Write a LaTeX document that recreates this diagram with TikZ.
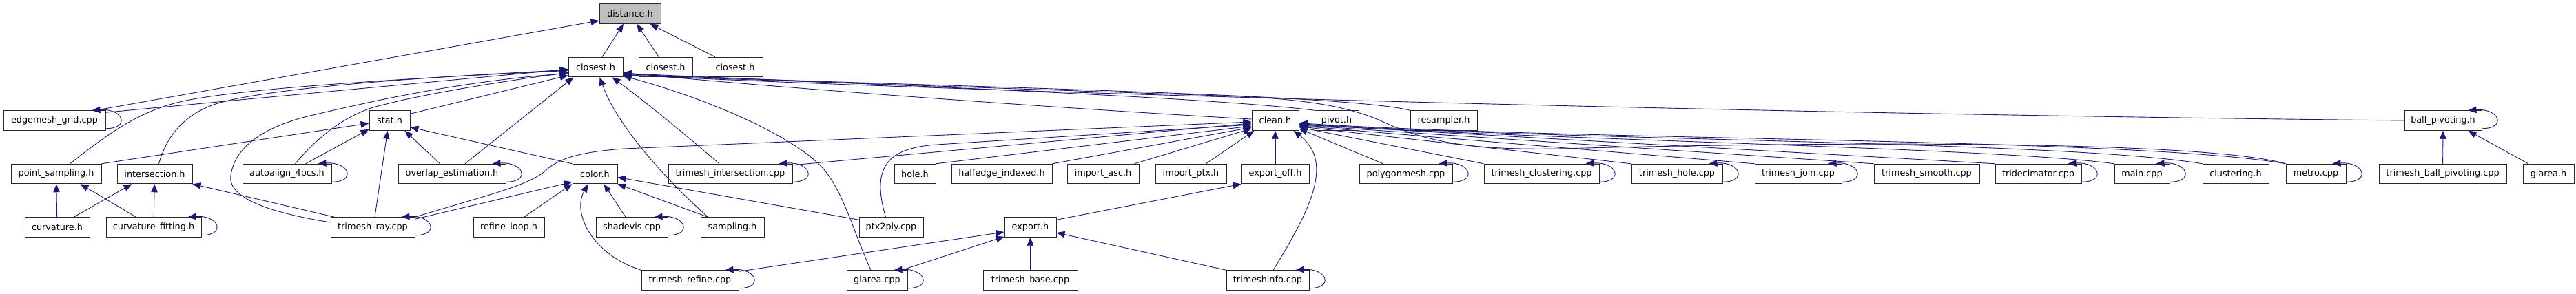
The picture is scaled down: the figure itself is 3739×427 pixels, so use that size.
\documentclass[tikz,border=0pt]{standalone}
\usepackage{fontspec}
\setmainfont{DejaVu Sans}
\usetikzlibrary{arrows.meta,calc}
\definecolor{edgeblue}{RGB}{25,25,112}
\definecolor{rootgrey}{RGB}{191,191,191}
\definecolor{boxline}{RGB}{40,40,40}
\newcommand\dloop[1]{\draw[dep] ($(#1.south east)+(0,-3)$) .. controls +(36,0) and +(46,-3) .. ($(#1.north east)+(-20,0)$);}
\begin{document}
\begin{tikzpicture}[x=1pt,y=-1pt,
  box/.style={draw=boxline, line width=1pt, fill=white, minimum height=28.5pt, inner sep=0pt, font=\fontsize{12.8}{15}\selectfont},
  dep/.style={draw=edgeblue, line width=0.9pt, -{Triangle[length=12pt,width=9.5pt]}}]
\useasboundingbox (0,0) rectangle (3739,427);
% row 0
\node[box, fill=rootgrey, minimum width=89pt] (dist) at (914.5,20) {distance.h};
% row 1
\node[box, minimum width=79pt] (clA) at (864.5,97.5) {closest.h};
\node[box, minimum width=78pt] (clB) at (966,97.5) {closest.h};
\node[box, minimum width=80pt] (clC) at (1067,97.5) {closest.h};
% row 2
\node[box, minimum width=148pt] (edg) at (79,175) {edgemesh\_grid.cpp};
\node[box, minimum width=59pt] (stat) at (565.5,175) {stat.h};
\node[box, minimum width=68pt] (clean) at (1851,175) {clean.h};
\node[box, minimum width=64pt] (pivot) at (1940,175) {pivot.h};
\node[box, minimum width=97pt] (resamp) at (2095.5,175) {resampler.h};
\node[box, minimum width=112pt] (ballp) at (3546,175) {ball\_pivoting.h};
% row 3
\node[box, minimum width=131pt] (psamp) at (81.5,252.5) {point\_sampling.h};
\node[box, minimum width=109pt] (inter) at (224.5,252.5) {intersection.h};
\node[box, minimum width=129pt] (autoal) at (416.5,252.5) {autoalign\_4pcs.h};
\node[box, minimum width=156pt] (overl) at (656,252.5) {overlap\_estimation.h};
\node[box, minimum width=65pt] (colorh) at (863.5,252.5) {color.h};
\node[box, minimum width=180pt] (tinter) at (1060,252.5) {trimesh\_intersection.cpp};
\node[box, minimum width=60pt] (hole) at (1328,252.5) {hole.h};
\node[box, minimum width=146pt] (halfe) at (1454,252.5) {halfedge\_indexed.h};
\node[box, minimum width=104pt] (iasc) at (1601,252.5) {import\_asc.h};
\node[box, minimum width=103pt] (iptx) at (1728.5,252.5) {import\_ptx.h};
\node[box, minimum width=98pt] (eoff) at (1851,252.5) {export\_off.h};
\node[box, minimum width=135pt] (polym) at (2040.5,252.5) {polygonmesh.cpp};
\node[box, minimum width=167pt] (tclust) at (2237.5,252.5) {trimesh\_clustering.cpp};
\node[box, minimum width=132pt] (thole) at (2434,252.5) {trimesh\_hole.cpp};
\node[box, minimum width=126pt] (tjoin) at (2610,252.5) {trimesh\_join.cpp};
\node[box, minimum width=153pt] (tsmooth) at (2796.5,252.5) {trimesh\_smooth.cpp};
\node[box, minimum width=125pt] (tdec) at (2958.5,252.5) {tridecimator.cpp};
\node[box, minimum width=80pt] (mainc) at (3109,252.5) {main.cpp};
\node[box, minimum width=96pt] (clusth) at (3245,252.5) {clustering.h};
\node[box, minimum width=87pt] (metro) at (3361.5,252.5) {metro.cpp};
\node[box, minimum width=185pt] (tbp) at (3545.5,252.5) {trimesh\_ball\_pivoting.cpp};
\node[box, minimum width=74pt] (glareah) at (3699,252.5) {glarea.h};
% row 4
\node[box, minimum width=94pt] (curv) at (83,330) {curvature.h};
\node[box, minimum width=138pt] (curvf) at (223,330) {curvature\_fitting.h};
\node[box, minimum width=122pt] (tray) at (541,330) {trimesh\_ray.cpp};
\node[box, minimum width=103pt] (rloop) at (738.5,330) {refine\_loop.h};
\node[box, minimum width=104pt] (shadev) at (917,330) {shadevis.cpp};
\node[box, minimum width=92pt] (sampl) at (1063,330) {sampling.h};
\node[box, minimum width=93pt] (ptx) at (1293.5,330) {ptx2ply.cpp};
\node[box, minimum width=75pt] (export) at (1495.5,330) {export.h};
% row 5
\node[box, minimum width=141pt] (trefine) at (1001.5,407) {trimesh\_refine.cpp};
\node[box, minimum width=88pt] (glareac) at (1273,407) {glarea.cpp};
\node[box, minimum width=137pt] (tbase) at (1495.5,407) {trimesh\_base.cpp};
\node[box, minimum width=120pt] (tinfo) at (1840,407) {trimeshinfo.cpp};

% --- to distance.h
\draw[dep] ($(edg.north)+(60,0)$) -- ($(dist.west)+(0,10)$);
\draw[dep] (clA) -- (dist);
\draw[dep] (clB) -- (dist);
\draw[dep] (clC) -- (dist);

% --- to closest.h
\draw[dep] ($(edg.north east)+(0,3)$) -- ($(clA.west)+(0,3)$);
\draw[dep] ($(psamp.north)+(20,0)$) .. controls (150,200) and (200,160) .. (270,146) .. controls (340,132) and (500,118) .. ($(clA.west)+(0,5)$);
\draw[dep] ($(inter.north)+(6,0)$) .. controls (240,205) and (260,170) .. (310,152) .. controls (360,135) and (500,118) .. ($(clA.west)+(0,4)$);
\draw[dep] ($(autoal.north)+(12,0)$) .. controls (460,200) and (500,168) .. (545,155) .. controls (600,140) and (700,122) .. ($(clA.west)+(0,8)$);
\draw[dep] ($(tray.west)+(0,-7)$) .. controls (400,310) and (330,290) .. (335,255) .. controls (340,215) and (380,185) .. (450,168) .. controls (520,152) and (650,120) .. ($(clA.west)+(0,9)$);
\draw[dep] ($(stat.north east)+(0,5)$) -- ($(clA.west)+(0,12)$);
\draw[dep] ($(overl.north)+(19,0)$) -- ($(clA.south west)+(8,0)$);
\draw[dep] ($(sampl.north west)+(11,0)$) .. controls (960,255) and (895,180) .. ($(clA.south)+(6,0)$);
\draw[dep] ($(tinter.north)+(-16,0)$) .. controls (1000,200) and (940,150) .. ($(clA.south)+(24,0)$);
\draw[dep] ($(glareac.north)+(-9,0)$) .. controls (1240,340) and (1225,280) .. (1195,245) .. controls (1160,205) and (1050,150) .. ($(clA.south east)+(0,-2)$);
\draw[dep] ($(clean.west)+(0,-2)$) .. controls (1500,155) and (1100,125) .. ($(clA.east)+(0,8)$);
\draw[dep] (pivot.north west) .. controls (1750,140) and (1200,120) .. ($(clA.east)+(0,9)$);
\draw[dep] (resamp.north west) .. controls (1950,135) and (1300,125) .. ($(clA.east)+(0,10)$);
\draw[dep] (ballp.west) .. controls (2500,165) and (1300,130) .. ($(clA.east)+(0,11)$);
\draw[dep] (metro.north west) .. controls (3200,205) and (2700,205) .. (2300,215) .. controls (2150,220) and (2080,210) .. (2010,178) .. controls (1960,155) and (1900,145) .. (1800,140) -- ($(clA.east)+(0,12)$);

% --- to stat.h
\draw[dep] (colorh.north west) -- ($(stat.south east)+(0,-5)$);
\draw[dep] (psamp.north east) -- ($(stat.west)+(0,4)$);
\draw[dep] ($(autoal.north)+(27,0)$) -- ($(stat.south west)+(0,-2)$);
\draw[dep] ($(tray.north)+(3,0)$) -- ($(stat.south)+(-3,0)$);
\draw[dep] ($(overl.north west)+(61,0)$) -- ($(stat.south east)+(-8,0)$);

% --- to point_sampling.h / intersection.h
\draw[dep] (curv) -- (psamp);
\draw[dep] ($(curvf.north west)+(44,0)$) -- ($(psamp.south east)+(-31,0)$);
\draw[dep] ($(curv.north)+(24,0)$) -- ($(inter.south west)+(22,0)$);
\draw[dep] (curvf) -- (inter);
\draw[dep] ($(tray.north west)+(6,0)$) -- (inter.south east);

% --- to color.h
\draw[dep] ($(tray.north east)+(0,3)$) -- ($(colorh.south west)+(0,-3)$);
\draw[dep] ($(rloop.north)+(22,0)$) -- (colorh.south west);
\draw[dep] ($(shadev.north)+(-9,0)$) -- ($(colorh.south)+(13,0)$);
\draw[dep] ($(sampl.north west)+(11,0)$) -- (colorh.south east);
\draw[dep] ($(ptx.north west)+(0,4)$) -- ($(colorh.east)+(0,5)$);
\draw[dep] (trefine.north west) .. controls (860,370) and (830,310) .. ($(colorh.south)+(-10,0)$);

% --- to clean.h
\draw[dep] (tray.north east) .. controls (700,285) and (770,270) .. (795,245) .. controls (815,228) and (850,220) .. (906,216) -- ($(clean.west)+(0,2)$);
\draw[dep] ($(tinter.north east)+(0,2)$) -- ($(clean.west)+(0,4)$);
\draw[dep] ($(ptx.north)+(-8,0)$) .. controls (1265,245) and (1285,215) .. (1360,210) -- ($(clean.west)+(0,6)$);
\draw[dep] (hole.north east) -- ($(clean.west)+(0,8)$);
\draw[dep] (halfe.north east) -- ($(clean.west)+(0,10)$);
\draw[dep] ($(iasc.north east)+(-7,0)$) -- ($(clean.south west)+(0,-3)$);
\draw[dep] ($(iptx.north)+(22,0)$) -- ($(clean.south west)+(4,0)$);
\draw[dep] (eoff) -- (clean);
\draw[dep] ($(tinfo.north)+(8,0)$) .. controls (1905,300) and (1935,235) .. ($(clean.south east)+(-8,0)$);
\draw[dep] ($(polym.north)+(-33,0)$) -- ($(clean.south east)+(0,-3)$);
\draw[dep] (tclust.north west) -- ($(clean.south east)+(0,-5)$);
\draw[dep] (thole.north west) -- ($(clean.south east)+(0,-6)$);
\draw[dep] (tjoin.north west) -- ($(clean.south east)+(0,-7)$);
\draw[dep] (tsmooth.north west) -- ($(clean.south east)+(0,-8)$);
\draw[dep] (tdec.north west) -- ($(clean.south east)+(0,-9)$);
\draw[dep] (mainc.north west) .. controls (2900,215) and (2300,205) .. ($(clean.south east)+(0,-9)$);
\draw[dep] (clusth.north west) .. controls (3000,205) and (2300,205) .. ($(clean.south east)+(0,-10)$);
\draw[dep] (metro.north west) .. controls (3100,200) and (2300,205) .. ($(clean.south east)+(0,-11)$);

% --- export.h / export_off.h
\draw[dep] ($(export.north east)+(0,4)$) -- (eoff.south west);
\draw[dep] ($(trefine.north east)+(0,2)$) -- ($(export.west)+(0,7)$);
\draw[dep] ($(glareac.north)+(36,0)$) -- ($(export.south west)+(0,-1)$);
\draw[dep] (tbase) -- (export);
\draw[dep] (tinfo.north west) -- ($(export.east)+(0,8)$);

% --- ball_pivoting.h
\draw[dep] (tbp) -- (ballp);
\draw[dep] ($(glareah.north west)+(8,0)$) -- ($(ballp.south east)+(-20,0)$);

% --- self loops
\dloop{edg}
\dloop{autoal}
\dloop{overl}
\dloop{curvf}
\dloop{tray}
\dloop{tinter}
\dloop{shadev}
\dloop{trefine}
\dloop{glareac}
\dloop{tinfo}
\dloop{polym}
\dloop{tclust}
\dloop{thole}
\dloop{tjoin}
\dloop{tdec}
\dloop{mainc}
\dloop{metro}
\dloop{ballp}
\end{tikzpicture}
\end{document}
